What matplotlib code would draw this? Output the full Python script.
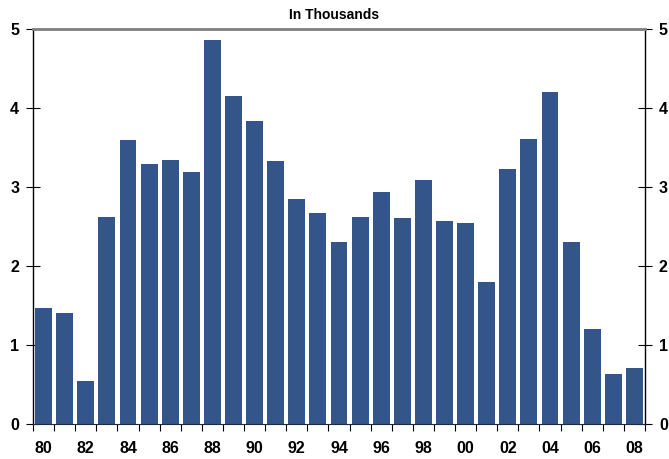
import matplotlib.pyplot as plt
import numpy as np

years = ["80", "81", "82", "83", "84", "85", "86", "87", "88", "89",
         "90", "91", "92", "93", "94", "95", "96", "97", "98", "99",
         "00", "01", "02", "03", "04", "05", "06", "07", "08"]
values = [1.47, 1.41, 0.54, 2.62, 3.59, 3.29, 3.34, 3.19, 4.86, 4.15,
          3.84, 3.33, 2.85, 2.67, 2.30, 2.62, 2.94, 2.61, 3.09, 2.57,
          2.54, 1.80, 3.23, 3.61, 4.20, 2.30, 1.20, 0.63, 0.71]
y_ticks = [0, 1, 2, 3, 4, 5]

plt.rcParams["font.family"] = ["Liberation Sans", "DejaVu Sans"]

fig = plt.figure(figsize=(6.69, 4.59), dpi=100)
ax = fig.add_axes([33 / 669, 1 - 424 / 459, 612 / 669, 395 / 459])

x = np.arange(len(years))
ax.bar(x, values, width=0.8, color="#34558a", zorder=2)

ax.set_xlim(-0.5, len(years) - 0.5)
ax.set_ylim(0, 5)

# labels on even years, ticks between bars
ax.set_xticks(x[::2])
ax.set_xticklabels(years[::2], fontsize=11.5, fontweight="bold")
ax.set_xticks(np.arange(-0.5, len(years), 1), minor=True)
ax.tick_params(axis="x", which="major", length=0, pad=12)
ax.tick_params(axis="x", which="minor", direction="out", length=5, width=0.8)

ax.set_yticks(y_ticks)
ax.set_yticklabels([str(v) for v in y_ticks], fontsize=11.5, fontweight="bold")
ax.tick_params(axis="y", direction="inout", length=10, width=0.8, pad=5,
               left=True, right=True, labelleft=True, labelright=True)

ax.spines["top"].set_color("#808080")
ax.spines["top"].set_linewidth(2)
ax.spines["bottom"].set_color("#1a2a40")
ax.spines["left"].set_linewidth(1)
ax.spines["right"].set_linewidth(1)

fig.text(0.5, 1 - 15 / 459, "In Thousands", ha="center", va="center",
         fontsize=10, fontweight="bold")

fig.savefig("out.png", dpi=100)
